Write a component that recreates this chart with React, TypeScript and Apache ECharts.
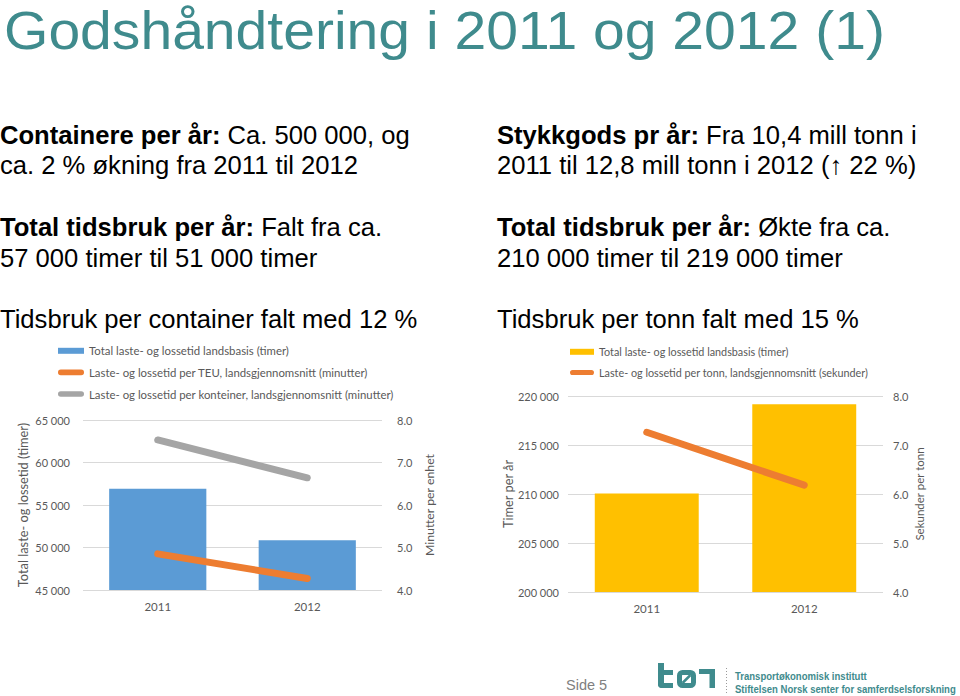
import React, { useEffect, useRef } from 'react';
import * as echarts from 'echarts';

// ---------- data ----------
const years = ['2011', '2012'];

const containerHoursTicks = [45000, 50000, 55000, 60000, 65000];
const minutesTicks = [4, 5, 6, 7, 8];
const cargoHoursTicks = [200000, 205000, 210000, 215000, 220000];
const secondsTicks = [4, 5, 6, 7, 8];

const containerHours = [56900, 50850];
const perTEUMinutes = [4.85, 4.27];
const perContainerMinutes = [7.53, 6.64];
const cargoHours = [210050, 219150];
const perTonneSeconds = [7.26, 6.18];

const nameTotal = 'Total laste- og lossetid landsbasis (timer)';
const nameTotalRight = 'Total laste- og lossetid landsbasis (timer)#2';
const nameTEU = 'Laste- og lossetid per TEU, landsgjennomsnitt (minutter)';
const nameContainer = 'Laste- og lossetid per konteiner, landsgjennomsnitt (minutter)';
const nameTonne = 'Laste- og lossetid per tonn, landsgjennomsnitt (sekunder)';

// ---------- styles ----------
const BLUE = '#5B9BD5';
const ORANGE = '#ED7D31';
const GRAY = '#A5A5A5';
const YELLOW = '#FFC000';
const TEAL = '#3F8B8D';
const AXIS_TEXT = '#595959';
const GRID = '#D9D9D9';
const CHART_FONT = 'Lato, "Open Sans", sans-serif';
const SLIDE_FONT = '"Liberation Sans", Arial, Helvetica, sans-serif';

const fmtThousands = (v: number) => String(v).replace(/\B(?=(\d{3})+(?!\d))/g, ' ');
const fmtOne = (v: number) => v.toFixed(1);

const valAxis = (
  gridIndex: number,
  ticks: number[],
  position: string,
  name: string,
  nameGap: number,
  nameSize: number,
  margin: number,
  formatter: (v: number) => string,
  showSplit: boolean
) => ({
  type: 'value',
  gridIndex,
  position,
  min: ticks[0],
  max: ticks[ticks.length - 1],
  interval: ticks[1] - ticks[0],
  name,
  nameLocation: 'middle',
  nameGap,
  nameRotate: 90,
  nameTextStyle: { color: AXIS_TEXT, fontSize: nameSize, fontFamily: CHART_FONT },
  axisLine: { show: false },
  axisTick: { show: false },
  axisLabel: { color: AXIS_TEXT, fontSize: 11, fontFamily: CHART_FONT, margin, formatter },
  splitLine: { show: showSplit, lineStyle: { color: GRID, width: 1 } },
});

const catAxis = (gridIndex: number) => ({
  type: 'category',
  gridIndex,
  data: years,
  axisLine: { show: false },
  axisTick: { show: false },
  axisLabel: { color: AXIS_TEXT, fontSize: 11.5, fontFamily: CHART_FONT, margin: 10 },
});

const LINE_ICON = 'path://M3,0 L25,0 A3,3 0 0 1 25,6 L3,6 A3,3 0 0 1 3,0 Z';

const slideText = (x: number, y: number, text: string, size = 25.6) => ({
  type: 'text',
  x,
  y,
  silent: true,
  style: {
    text,
    fill: '#000000',
    fontSize: size,
    fontFamily: SLIDE_FONT,
    verticalAlign: 'middle',
    align: 'left',
    rich: {
      b: { fontWeight: 'bold', fontSize: size, fontFamily: SLIDE_FONT, fill: '#000000' },
    },
  },
});

export default function App() {
  const ref = useRef<HTMLDivElement>(null);

  useEffect(() => {
    if (!ref.current) return;
    const chart = echarts.init(ref.current, undefined, { renderer: 'svg' });

    const option: any = {
      animation: false,
      backgroundColor: '#ffffff',
      grid: [
        { left: 83, right: 960 - 382, top: 420, bottom: 696 - 590 },
        { left: 568, right: 960 - 883, top: 396, bottom: 696 - 592 },
      ],
      legend: [
        {
          orient: 'vertical',
          left: 58,
          top: 345.3,
          padding: 0,
          itemWidth: 26,
          itemHeight: 6,
          itemGap: 10.6,
          selectedMode: false,
          textStyle: { color: AXIS_TEXT, fontSize: 11.4, fontFamily: CHART_FONT },
          data: [
            { name: nameTotal, icon: 'rect', itemStyle: { color: BLUE } },
            { name: nameTEU, icon: LINE_ICON, itemStyle: { color: ORANGE } },
            { name: nameContainer, icon: LINE_ICON, itemStyle: { color: GRAY } },
          ],
        },
        {
          orient: 'vertical',
          left: 570,
          top: 346.3,
          padding: 0,
          itemWidth: 24,
          itemHeight: 6,
          itemGap: 9.7,
          selectedMode: false,
          textStyle: { color: AXIS_TEXT, fontSize: 10.8, fontFamily: CHART_FONT },
          formatter: (n: string) => n.replace('#2', ''),
          data: [
            { name: nameTotalRight, icon: 'rect', itemStyle: { color: YELLOW } },
            { name: nameTonne, icon: LINE_ICON, itemStyle: { color: ORANGE } },
          ],
        },
      ],
      xAxis: [catAxis(0), catAxis(1)],
      yAxis: [
        valAxis(0, containerHoursTicks, 'left', 'Total laste- og lossetid (timer)', 54, 12.8, 13, fmtThousands, true),
        valAxis(0, minutesTicks, 'right', 'Minutter per enhet', 41, 12.3, 15, fmtOne, false),
        valAxis(1, cargoHoursTicks, 'left', 'Timer per år', 50, 12.8, 9, fmtThousands, true),
        valAxis(1, secondsTicks, 'right', 'Sekunder per tonn', 30, 11.5, 10, fmtOne, false),
      ],
      series: [
        {
          type: 'bar',
          name: nameTotal,
          xAxisIndex: 0,
          yAxisIndex: 0,
          data: containerHours,
          color: BLUE,
          barCategoryGap: '35%',
        },
        {
          type: 'line',
          name: nameTEU,
          xAxisIndex: 0,
          yAxisIndex: 1,
          data: perTEUMinutes,
          color: ORANGE,
          symbol: 'none',
          lineStyle: { width: 7, color: ORANGE, cap: 'round' },
        },
        {
          type: 'line',
          name: nameContainer,
          xAxisIndex: 0,
          yAxisIndex: 1,
          data: perContainerMinutes,
          color: GRAY,
          symbol: 'none',
          lineStyle: { width: 7, color: GRAY, cap: 'round' },
        },
        {
          type: 'bar',
          name: nameTotalRight,
          xAxisIndex: 1,
          yAxisIndex: 2,
          data: cargoHours,
          color: YELLOW,
          barCategoryGap: '34%',
        },
        {
          type: 'line',
          name: nameTonne,
          xAxisIndex: 1,
          yAxisIndex: 3,
          data: perTonneSeconds,
          color: ORANGE,
          symbol: 'none',
          lineStyle: { width: 7, color: ORANGE, cap: 'round' },
        },
      ],
      graphic: [
        {
          type: 'text',
          x: 4,
          y: 4,
          scaleX: 1.057,
          silent: true,
          style: {
            text: 'Godshåndtering i 2011 og 2012 (1)',
            fill: TEAL,
            fontSize: 54,
            fontFamily: SLIDE_FONT,
            verticalAlign: 'top',
          },
        },
        slideText(0, 134.6, '{b|Containere per år:} Ca. 500 000, og'),
        slideText(0, 164.6, 'ca. 2 % økning fra 2011 til 2012'),
        slideText(0, 227.3, '{b|Total tidsbruk per år:} Falt fra ca.'),
        slideText(0, 258, '57 000 timer til 51 000 timer'),
        slideText(0, 319.3, 'Tidsbruk per container falt med 12 %'),
        slideText(497, 134.6, '{b|Stykkgods pr år:} Fra 10,4 mill tonn i'),
        slideText(497, 164.6, '2011 til 12,8 mill tonn i 2012 (\u2191 22 %)'),
        slideText(497, 227.3, '{b|Total tidsbruk per år:} Økte fra ca.'),
        slideText(497, 258, '210 000 timer til 219 000 timer'),
        slideText(497, 319.3, 'Tidsbruk per tonn falt med 15 %'),
        {
          type: 'text',
          x: 566,
          y: 685,
          silent: true,
          style: { text: 'Side 5', fill: '#808080', fontSize: 14.5, fontFamily: SLIDE_FONT, verticalAlign: 'middle' },
        },
        // logo "tøi"
        { type: 'rect', silent: true, shape: { x: 658, y: 663, width: 6, height: 25, r: [0, 0, 0, 4] }, style: { fill: TEAL } },
        { type: 'rect', silent: true, shape: { x: 658, y: 670, width: 15, height: 5 }, style: { fill: TEAL } },
        { type: 'rect', silent: true, shape: { x: 658, y: 683, width: 15, height: 5, r: [0, 0, 0, 4] }, style: { fill: TEAL } },
        { type: 'rect', silent: true, shape: { x: 679.5, y: 672.5, width: 14, height: 13, r: 3 }, style: { fill: 'none', stroke: TEAL, lineWidth: 5 } },
        { type: 'line', silent: true, shape: { x1: 682.5, y1: 683, x2: 690.5, y2: 675 }, style: { stroke: TEAL, lineWidth: 2.5 } },
        { type: 'rect', silent: true, shape: { x: 699, y: 669, width: 16, height: 5 }, style: { fill: TEAL } },
        { type: 'rect', silent: true, shape: { x: 709.5, y: 669, width: 5.5, height: 19 }, style: { fill: TEAL } },
        { type: 'line', silent: true, shape: { x1: 726.5, y1: 668, x2: 726.5, y2: 694 }, style: { stroke: '#9a9a9a', lineWidth: 1, lineDash: [1, 2] } },
        {
          type: 'text',
          x: 735,
          y: 675.5,
          scaleX: 0.83,
          silent: true,
          style: { text: 'Transportøkonomisk institutt', fill: TEAL, fontSize: 11.5, fontWeight: 'bold', fontFamily: SLIDE_FONT, verticalAlign: 'middle' },
        },
        {
          type: 'text',
          x: 735,
          y: 688.5,
          scaleX: 0.83,
          silent: true,
          style: { text: 'Stiftelsen Norsk senter for samferdselsforskning', fill: TEAL, fontSize: 11.5, fontWeight: 'bold', fontFamily: SLIDE_FONT, verticalAlign: 'middle' },
        },
      ],
    };

    chart.setOption(option);
    return () => chart.dispose();
  }, []);

  return (
    <div
      ref={ref}
      style={{ position: 'absolute', left: 0, top: 0, width: 960, height: 696, background: '#fff' }}
    />
  );
}
